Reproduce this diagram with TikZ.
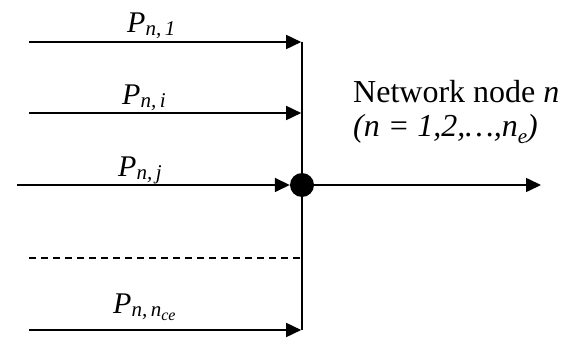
\documentclass[tikz,border=0pt]{standalone}
\usepackage{fontspec}
\setmainfont{Liberation Serif}
\usetikzlibrary{arrows.meta}
\newcommand{\mysub}[1]{\raisebox{-0.1em}{\fontsize{21}{21}\selectfont\itshape #1}}
\newcommand{\mysubsub}[1]{\raisebox{-0.22em}{\fontsize{16}{16}\selectfont\itshape #1}}
\begin{document}
\begin{tikzpicture}[x=1pt,y=-1pt,
  flow/.style={line width=1.6pt,-{Triangle[length=15pt,width=14pt]}},
  plain/.style={line width=1.6pt},
  lbl/.style={anchor=base west,inner sep=0pt,font=\fontsize{30}{30}\selectfont},
  txt/.style={anchor=base west,inner sep=0pt,font=\fontsize{32}{32}\selectfont}]
\useasboundingbox (0,0) rectangle (565,339);
% coordinates
\coordinate (a1) at (29,42);   \coordinate (b1) at (302,42);
\coordinate (a2) at (29,113);  \coordinate (b2) at (302,113);
\coordinate (a3) at (17,185);
\coordinate (a4) at (29,258);  \coordinate (b4) at (302,258);
\coordinate (a5) at (29,330);  \coordinate (b5) at (302,330);
\coordinate (out) at (541,185);
\node[circle,fill=black,inner sep=0pt,minimum size=24pt] (dot) at (302,185) {};
% lines
\draw[plain] (b1) -- (b5);
\draw[flow] (a1) -- ([xshift=-0.8pt]b1);
\draw[flow] (a2) -- ([xshift=-0.8pt]b2);
\draw[flow] (a3) -- (dot.west);
\draw[plain,dashed,dash pattern=on 7pt off 5pt] (a4) -- (b4);
\draw[flow] (a5) -- ([xshift=-0.8pt]b5);
\draw[flow] (dot) -- (out);
% labels
\node[lbl] (l1) at (127,33) {\textit{P}\mysub{n,\,1}};
\node[lbl] (l2) at (122,105) {\textit{P}\mysub{n,\,i}};
\node[lbl] (l3) at (118,177) {\textit{P}\mysub{n,\,j}};
\node[lbl] (l4) at (113,313) {\textit{P}\mysub{n,\,n\mysubsub{ce}}};
\node[txt] (t1) at (353,103) {Network node \textit{n}};
\node[txt] (t2) at (353,137) {\textit{(n = 1,2,\ldots,n\raisebox{-0.2em}{\fontsize{21}{21}\selectfont e})}};
\end{tikzpicture}
\end{document}
